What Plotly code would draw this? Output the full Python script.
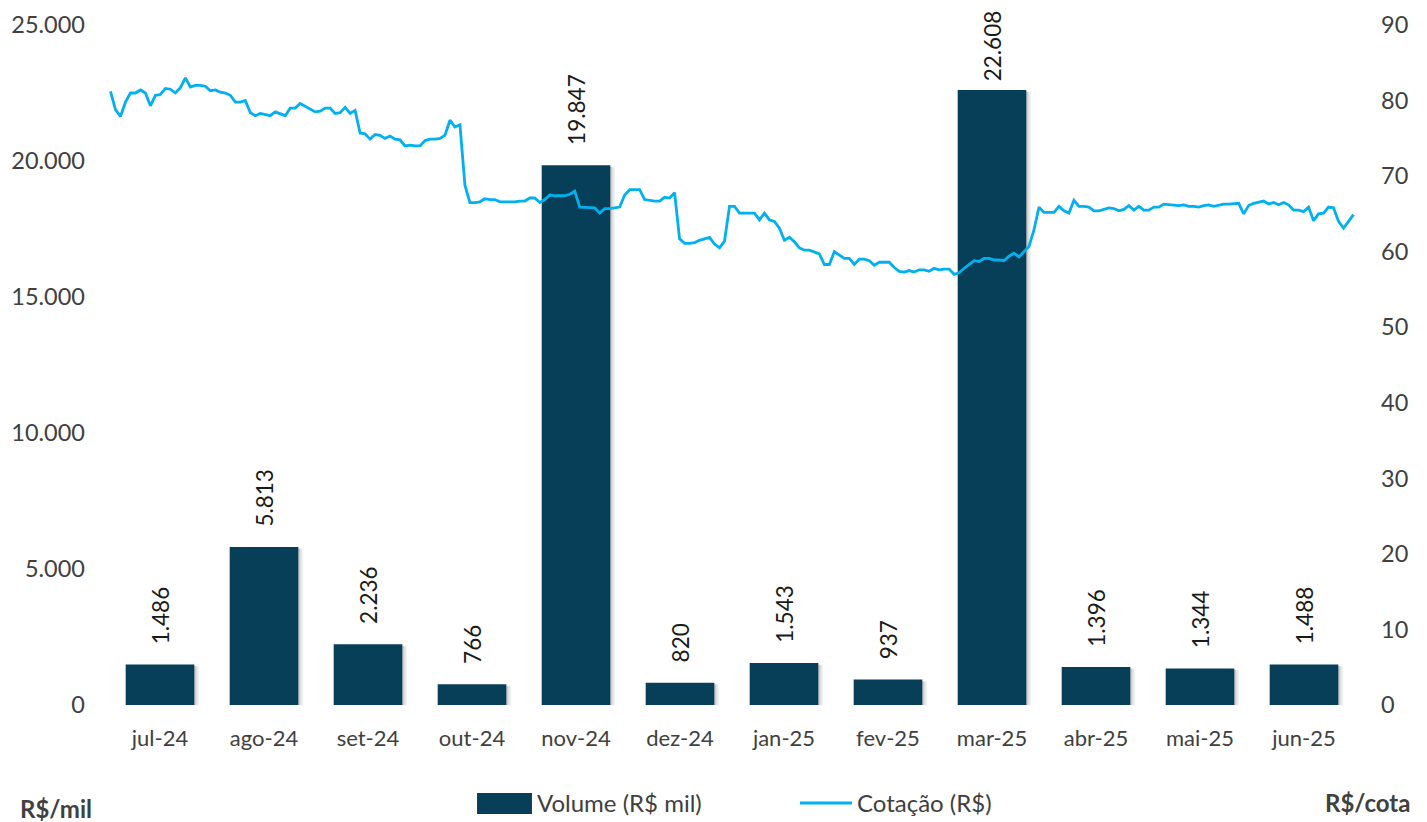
import plotly.graph_objects as go

months = ["jul-24", "ago-24", "set-24", "out-24", "nov-24", "dez-24",
          "jan-25", "fev-25", "mar-25", "abr-25", "mai-25", "jun-25"]
volume = [1486, 5813, 2236, 766, 19847, 820, 1543, 937, 22608, 1396, 1344, 1488]

# Cotação diária (R$)
cotacao = [
    81.2, 78.8, 77.9, 79.8, 81.0, 81.0, 81.4, 81.0, 79.3, 80.7, 80.8, 81.6, 81.5, 81.0, 81.7,
    83.0, 81.8, 82.0, 82.0, 81.9, 81.3, 81.4, 81.1, 81.0, 80.7, 79.8, 79.8, 80.0, 78.4, 78.0,
    78.3, 78.2, 78.0, 78.5, 78.2, 78.0, 79.0, 79.0, 79.6, 79.2, 78.9, 78.5, 78.6, 79.0, 79.0,
    78.3, 78.4, 79.1, 78.3, 78.7,
    75.7, 75.6, 74.9, 75.5, 75.4, 75.0, 75.3, 74.9, 74.8, 74.0, 74.1, 74.0, 74.0, 74.7, 74.9,
    74.9, 75.0, 75.4, 77.4, 76.5, 76.8, 68.8, 66.5, 66.5, 66.6, 67.0, 66.9, 66.9, 66.6, 66.6,
    66.6, 66.6, 66.7, 66.7, 67.1, 67.1, 66.5, 66.9, 67.5, 67.4, 67.4, 67.4, 67.6, 68.0, 65.9,
    65.9, 65.9, 65.8, 65.1,
    65.7, 65.7, 65.8, 65.9, 67.5, 68.2, 68.2, 68.2, 66.9, 66.8, 66.7, 66.7, 67.2, 67.1, 67.8,
    61.7, 61.1, 61.1, 61.2, 61.5, 61.7, 61.9, 61.0, 60.5, 61.4, 66.0, 66.0, 65.1, 65.1, 65.1,
    65.1, 64.2, 65.1, 64.2, 64.0, 63.1, 61.5, 61.9, 61.3, 60.5, 60.2, 60.2, 59.9, 59.7, 58.3,
    58.3, 60.0, 59.5, 59.1, 59.1,
    58.3, 59.0, 59.0, 58.8, 58.2, 58.6, 58.6, 58.6, 57.9, 57.4, 57.3, 57.5, 57.3, 57.6, 57.6,
    57.4, 57.8, 57.6, 57.7, 57.7, 57.0, 57.2, 57.8, 58.3, 58.8, 58.7, 59.1, 59.1, 58.9, 58.9,
    58.8, 59.4, 59.8, 59.3, 60.0, 60.7, 62.9, 65.9, 65.2, 65.2, 65.2, 66.0, 65.4, 65.1, 66.8,
    66.0, 66.0, 65.9, 65.4, 65.4, 65.6, 65.8,
    65.7, 65.4, 65.6, 66.1, 65.5, 66.0, 65.5, 65.5, 65.9, 65.9, 66.3, 66.2, 66.1, 66.1, 66.2,
    66.0, 66.0, 65.9, 66.1, 66.2, 66.0, 66.2, 66.3, 66.3, 66.4, 66.4, 65.0, 66.1, 66.4, 66.6,
    66.7, 66.3, 66.5, 66.2, 66.5, 66.2, 65.5, 65.5, 65.3, 65.9, 64.1, 65.0, 65.1, 65.9, 65.8,
    64.0, 63.1, 64.0, 64.9,
]

bar_name = "Volume (R$ mil)"
line_name = "Cotação (R$)"

FONT = "Lato"
TICK_COLOR = "#404040"
BAR_COLOR = "#073F58"
LINE_COLOR = "#00B0F0"
BAR_W = 0.66

# data labels: pt-BR thousands separator, padded away from the bar top
vmax = max(volume)
labels = [("\u00a0" if v == vmax else "\u00a0\u00a0\u00a0") + f"{v:,}".replace(",", ".")
          for v in volume]

fig = go.Figure()

# soft drop shadow behind the bars
for dx, alpha in [(0.045, 0.05), (0.03, 0.08), (0.015, 0.10)]:
    fig.add_trace(go.Bar(
        x=months, y=volume, base=-60, width=BAR_W, offset=-BAR_W / 2 + dx,
        marker=dict(color=f"rgba(0,0,0,{alpha})", line=dict(width=0)),
        hoverinfo="skip", showlegend=False, xaxis="x", yaxis="y",
    ))

fig.add_trace(go.Bar(
    x=months, y=volume, name=bar_name, width=BAR_W, offset=-BAR_W / 2,
    marker=dict(color=BAR_COLOR, line=dict(width=0)),
    text=labels, texttemplate="%{text}", textposition="outside", textangle=-90,
    textfont=dict(family=FONT, size=22.5, color="#1a1a1a"),
    cliponaxis=False, constraintext="none",
    xaxis="x", yaxis="y", showlegend=False,
))

fig.add_trace(go.Scatter(
    x=list(range(len(cotacao))), y=cotacao, name=line_name,
    mode="lines", line=dict(color=LINE_COLOR, width=2.8),
    xaxis="x2", yaxis="y2", showlegend=False,
))

# manual legend (paper coordinates)
leg_y = -0.144
shapes = [
    dict(type="rect", xref="paper", yref="paper", x0=0.2957, x1=0.3397, y0=-0.1603, y1=-0.1294,
         fillcolor=BAR_COLOR, line=dict(width=0)),
    dict(type="line", xref="paper", yref="paper", x0=0.5545, x1=0.5962, y0=leg_y, y1=leg_y,
         line=dict(color=LINE_COLOR, width=3)),
]

annotations = [
    dict(text=bar_name, xref="paper", yref="paper", x=0.3420, y=leg_y,
         xanchor="left", yanchor="middle", showarrow=False,
         font=dict(family=FONT, size=24, color=TICK_COLOR)),
    dict(text=line_name, xref="paper", yref="paper", x=0.5985, y=leg_y,
         xanchor="left", yanchor="middle", showarrow=False,
         font=dict(family=FONT, size=24, color=TICK_COLOR)),
    dict(text="<b>R$/mil</b>", xref="paper", yref="paper", x=-0.0720, y=-0.1515,
         xanchor="left", yanchor="middle", showarrow=False,
         font=dict(family=FONT, size=24, color=TICK_COLOR)),
    dict(text="<b>R$/cota</b>", xref="paper", yref="paper", x=1.0445, y=leg_y,
         xanchor="right", yanchor="middle", showarrow=False,
         font=dict(family=FONT, size=24, color=TICK_COLOR)),
]

fig.update_layout(
    width=1427, height=822,
    margin=dict(l=108, r=71, t=25, b=117, autoexpand=False),
    paper_bgcolor="white", plot_bgcolor="white",
    separators=",.",
    font=dict(family=FONT, size=22, color=TICK_COLOR),
    barmode="overlay",
    showlegend=False,
    xaxis=dict(type="category", showgrid=False, zeroline=False, showline=False, automargin=False,
               ticks="", tickfont=dict(size=22, color=TICK_COLOR), ticklabelstandoff=18),
    xaxis2=dict(overlaying="x", range=[-0.5, len(cotacao) - 0.5], visible=False, automargin=False),
    yaxis=dict(range=[0, 25000], dtick=5000, tickformat=",.0f", showgrid=False, automargin=False,
               zeroline=False, showline=False, ticks="", ticklabelstandoff=22,
               tickfont=dict(size=23.5, color=TICK_COLOR)),
    yaxis2=dict(range=[0, 90], dtick=10, overlaying="y", side="right", showgrid=False,
                automargin=False, zeroline=False, showline=False, ticks="", ticklabelstandoff=24,
                tickfont=dict(size=23.5, color=TICK_COLOR)),
    shapes=shapes,
    annotations=annotations,
)

fig.write_html("out.html", config={"displayModeBar": False},
               post_script="document.body.style.margin='0';document.body.style.overflow='hidden';")
